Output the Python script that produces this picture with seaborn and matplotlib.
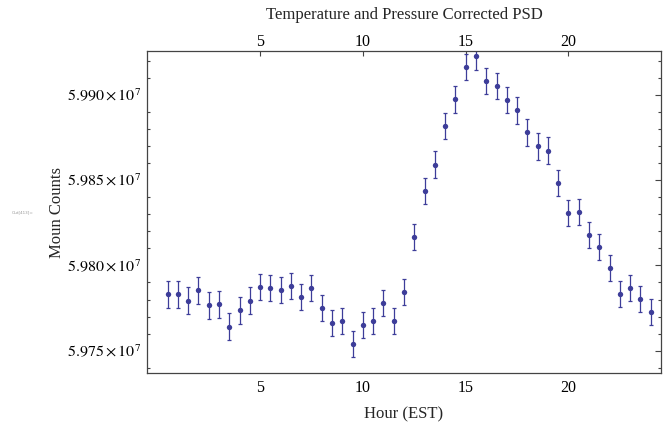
import matplotlib
matplotlib.use("Agg")
import matplotlib.pyplot as plt
import matplotlib.transforms as mtrans
from matplotlib.ticker import MultipleLocator, FixedLocator, FuncFormatter
import seaborn as sns
import pandas as pd

hours = [0.5, 1.0, 1.5, 2.0, 2.5, 3.0, 3.5, 4.0, 4.5, 5.0, 5.5, 6.0,
         6.5, 7.0, 7.5, 8.0, 8.5, 9.0, 9.5, 10.0, 10.5, 11.0, 11.5, 12.0,
         12.5, 13.0, 13.5, 14.0, 14.5, 15.0, 15.5, 16.0, 16.5, 17.0, 17.5, 18.0,
         18.5, 19.0, 19.5, 20.0, 20.5, 21.0, 21.5, 22.0, 22.5, 23.0, 23.5, 24.0]
counts = [59783000, 59783000, 59779400, 59785300, 59776500, 59777100, 59764100, 59773600,
          59779400, 59787300, 59786700, 59785500, 59787900, 59781400, 59786700, 59774900,
          59766100, 59767300, 59753700, 59764900, 59767300, 59777900, 59767300, 59784500,
          59816800, 59843800, 59859200, 59881900, 59897400, 59916300, 59922600, 59908100,
          59905100, 59896900, 59891000, 59878000, 59869800, 59867400, 59848400, 59830900,
          59831500, 59817900, 59810900, 59798500, 59783200, 59786700, 59780200, 59772600]
errors = [7732, 7732, 7732, 7732, 7731, 7731, 7731, 7731, 7732, 7732, 7732, 7732,
          7732, 7732, 7732, 7731, 7731, 7731, 7730, 7731, 7731, 7731, 7731, 7732,
          7734, 7736, 7737, 7738, 7739, 7740, 7741, 7740, 7740, 7739, 7739, 7738,
          7738, 7737, 7736, 7735, 7735, 7734, 7734, 7733, 7732, 7732, 7732, 7731]
xticks = [5, 10, 15, 20]
yticks = [59750000, 59800000, 59850000, 59900000]

title = "Temperature and Pressure Corrected PSD"
xlabel = "Hour (EST)"
ylabel = "Moun Counts"

df = pd.DataFrame({"hour": hours, "count": counts, "err": errors})

sns.set_style("white")
plt.rcParams["font.family"] = ["Liberation Serif", "DejaVu Serif"]
plt.rcParams["mathtext.fontset"] = "stix"

color = "#3d3d99"
frame = "#444444"

fig = plt.figure(figsize=(6.67, 4.23), dpi=100)
ax = fig.add_axes([0.2204, 0.1175, 0.991 - 0.2204, 0.8794 - 0.1175])

ax.errorbar(df["hour"], df["count"], yerr=df["err"], fmt="none",
            ecolor=color, elinewidth=0.9, capsize=1.6, capthick=0.9, zorder=2)
sns.scatterplot(data=df, x="hour", y="count", ax=ax, color=color, s=15,
                edgecolor=color, linewidth=0, zorder=3)

ax.set_xlim(-0.5, 24.5)
ax.set_ylim(59736700, 59925800)

ax.xaxis.set_major_locator(FixedLocator(xticks))
ax.yaxis.set_major_locator(FixedLocator(yticks))
ax.yaxis.set_minor_locator(MultipleLocator(10000))

def yfmt(v, pos):
    return r"$%.3f\times10^{7}$" % (v / 1e7)

ax.yaxis.set_major_formatter(FuncFormatter(yfmt))
ax.tick_params(axis="both", which="both", direction="in", colors=frame,
               labelcolor="black", labelsize=11.5, width=0.8)
ax.tick_params(axis="x", which="major", length=3.5, top=True, labeltop=True, pad=5)
ax.tick_params(axis="y", which="major", length=4, right=True, labelright=False, pad=4)
ax.tick_params(axis="y", which="minor", length=2, left=True, right=True)

# nudge the top tick labels closer to the frame
shift = mtrans.ScaledTranslation(0, -4.5 / 72, fig.dpi_scale_trans)
for t in ax.xaxis.get_major_ticks():
    t.label2.set_transform(t.label2.get_transform() + shift)

for sp in ax.spines.values():
    sp.set_color(frame)
    sp.set_linewidth(0.9)

ax.set_xlabel(xlabel, fontsize=12, labelpad=7)
ax.set_ylabel(ylabel, fontsize=12, labelpad=2)
ax.set_title(title, fontsize=12, pad=23)

fig.text(0.018, 0.497, "Out[413]=", fontsize=3, color="#999999",
         ha="left", va="center", family="DejaVu Sans")

fig.savefig("out.png", dpi=100)
